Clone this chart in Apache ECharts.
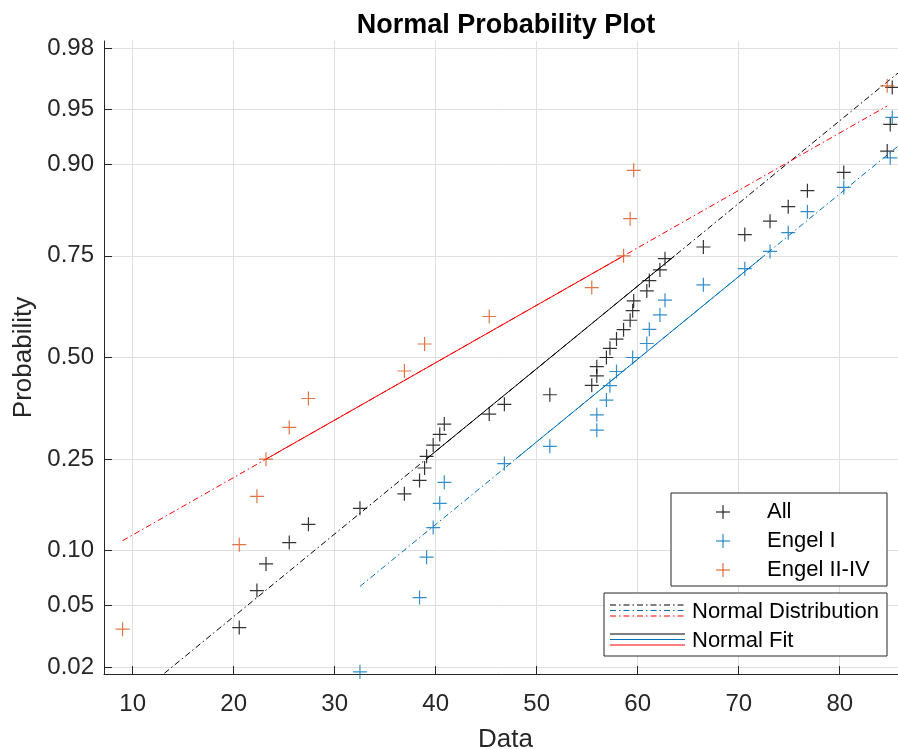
<!DOCTYPE html>
<html>
<head>
<meta charset="utf-8">
<title>Normal Probability Plot</title>
<script src="https://cdn.jsdelivr.net/npm/echarts@6/dist/echarts.min.js"></script>
<style>
  html, body { margin: 0; padding: 0; background: #fff; }
  #chart { width: 898px; height: 749px; }
</style>
</head>
<body>
<div id="chart"></div>
<script>
// values (Data axis)
const allData = [9, 20.55, 22.3, 23.2, 25.5, 27.4, 32.5, 36.9, 38.4, 38.9, 39.1, 39.75, 40.4, 40.85,
  45.3, 46.8, 51.3, 55.45, 55.95, 55.95, 56.9, 57.25, 57.9, 58.6, 59.25, 59.5, 59.6, 60.9, 61.15,
  62.2, 62.7, 66.5, 70.6, 73.1, 74.9, 76.8, 80.4, 84.7, 85.0, 85.2, 88];
const engelI = [32.5, 38.4, 39.1, 39.75, 40.4, 40.85, 46.8, 51.3, 55.95, 55.95, 56.9, 57.25, 57.9,
  59.5, 60.9, 61.15, 62.2, 62.7, 66.5, 70.6, 73.1, 74.9, 76.8, 80.4, 85.0, 85.2, 88];
const engelII = [9, 20.55, 22.3, 23.2, 25.5, 27.4, 36.9, 38.9, 45.3, 55.45, 58.6, 59.25, 59.6, 84.7];

// reference lines: [min, q1, q3, max] on the Data axis
const lineAll = [9, 39.05, 63.65, 88];
const lineI = [32.5, 47.9, 72.5, 88];
const lineII = [9, 23.2, 58.6, 84.7];

// axis ticks
const probTicks = [0.02, 0.05, 0.10, 0.25, 0.50, 0.75, 0.90, 0.95, 0.98];
const probLabels = ['0.02', '0.05', '0.10', '0.25', '0.50', '0.75', '0.90', '0.95', '0.98'];
const dataTicks = [10, 20, 30, 40, 50, 60, 70, 80];

const FONT = '"Liberation Sans", Arial, Helvetica, sans-serif';
const BLACK = '#000000';
const BLUE = '#0072BD';
const ORANGE = '#D95319';
const RED = '#FF0000';
const DASHDOT = [6, 3, 1.5, 3];

// inverse standard normal cdf (Acklam)
function norminv(p) {
  const a = [-3.969683028665376e+01, 2.209460984245205e+02, -2.759285104469687e+02, 1.383577518672690e+02, -3.066479806614716e+01, 2.506628277459239e+00];
  const b = [-5.447609879822406e+01, 1.615858368580409e+02, -1.556989798598866e+02, 6.680131188771972e+01, -1.328068155288572e+01];
  const c = [-7.784894002430293e-03, -3.223964580411365e-01, -2.400758277161838e+00, -2.549732539343734e+00, 4.374664141464968e+00, 2.938163982698783e+00];
  const d = [7.784695709041462e-03, 3.224671290700398e-01, 2.445134137142996e+00, 3.754408661907416e+00];
  const pl = 0.02425;
  let q, r;
  if (p < pl) {
    q = Math.sqrt(-2 * Math.log(p));
    return (((((c[0] * q + c[1]) * q + c[2]) * q + c[3]) * q + c[4]) * q + c[5]) / ((((d[0] * q + d[1]) * q + d[2]) * q + d[3]) * q + 1);
  }
  if (p > 1 - pl) {
    q = Math.sqrt(-2 * Math.log(1 - p));
    return -(((((c[0] * q + c[1]) * q + c[2]) * q + c[3]) * q + c[4]) * q + c[5]) / ((((d[0] * q + d[1]) * q + d[2]) * q + d[3]) * q + 1);
  }
  q = p - 0.5;
  r = q * q;
  return (((((a[0] * r + a[1]) * r + a[2]) * r + a[3]) * r + a[4]) * r + a[5]) * q / (((((b[0] * r + b[1]) * r + b[2]) * r + b[3]) * r + b[4]) * r + 1);
}

// plotting position (i-0.5)/n for sorted sample
function probPoints(arr) {
  const s = arr.slice().sort((x, y) => x - y);
  return s.map((v, i) => [v, norminv((i + 0.5) / s.length)]);
}

// line through (q1, p=.25) and (q3, p=.75)
function refLine(l) {
  const z1 = norminv(0.25), z3 = norminv(0.75);
  const k = (z3 - z1) / (l[2] - l[1]);
  const zAt = x => z1 + (x - l[1]) * k;
  return {
    dist: [[l[0], zAt(l[0])], [l[3], zAt(l[3])]],
    fit: [[l[1], z1], [l[2], z3]]
  };
}

function lineSeries(name, pts, color, dashed) {
  return {
    name: name, type: 'line', data: pts, symbol: 'none', silent: true,
    lineStyle: { color: color, width: 1, type: dashed ? DASHDOT : 'solid' },
    z: 2
  };
}

const PLUS = 'path://M7,0L7,14M0,7L14,7';
function scatterSeries(name, arr, color) {
  return {
    name: name, type: 'scatter', data: probPoints(arr),
    symbol: PLUS, symbolSize: 14,
    itemStyle: { color: 'rgba(0,0,0,0)', borderColor: color, borderWidth: 1.2 },
    z: 3
  };
}

const rAll = refLine(lineAll), rI = refLine(lineI), rII = refLine(lineII);
const yTicks = probTicks.map(norminv);

// legend boxes
function legendGraphics() {
  const g = [];
  const txt = (x, y, s) => ({ type: 'text', x: x, y: y, style: { text: s, fill: '#000', font: '22px ' + FONT, textVerticalAlign: 'middle' }, z: 101 });
  const ln = (x1, y1, x2, y2, col, dash) => ({ type: 'line', shape: { x1: x1, y1: y1, x2: x2, y2: y2 }, style: { stroke: col, lineWidth: 1, lineDash: dash ? DASHDOT : null }, z: 101 });
  const plus = (cx, cy, col) => [ln(cx - 7, cy, cx + 7, cy, col, false), ln(cx, cy - 7, cx, cy + 7, col, false)];
  g.push({ type: 'rect', shape: { x: 671, y: 493, width: 216, height: 93 }, style: { fill: '#fff', stroke: '#262626', lineWidth: 1 }, z: 100 });
  g.push(...plus(723, 512, BLACK), txt(767, 512, 'All'));
  g.push(...plus(723, 541, BLUE), txt(767, 541, 'Engel I'));
  g.push(...plus(723, 570, ORANGE), txt(767, 570, 'Engel II-IV'));
  g.push({ type: 'rect', shape: { x: 604, y: 593, width: 283, height: 63 }, style: { fill: '#fff', stroke: '#262626', lineWidth: 1 }, z: 100 });
  g.push(ln(610, 605, 685, 605, BLACK, true), ln(610, 610.5, 685, 610.5, BLUE, true), ln(610, 616, 685, 616, RED, true), txt(692, 611.5, 'Normal Distribution'));
  g.push(ln(610, 634, 685, 634, BLACK, false), ln(610, 639.5, 685, 639.5, BLUE, false), ln(610, 645, 685, 645, RED, false), txt(692, 641, 'Normal Fit'));
  return g;
}

const chart = echarts.init(document.getElementById('chart'), null, { renderer: 'canvas' });
chart.setOption({
  animation: false,
  backgroundColor: '#fff',
  title: {
    text: 'Normal Probability Plot', left: 501, top: 7, textAlign: 'center',
    textStyle: { fontFamily: FONT, fontSize: 27, fontWeight: 'bold', color: '#000' }
  },
  grid: { left: 104, top: 41, right: -9, bottom: 75, containLabel: false, outerBoundsMode: 'none' },
  xAxis: {
    type: 'value', min: 7.16, max: 86.66,
    name: 'Data', nameLocation: 'middle', nameGap: 53,
    nameTextStyle: { fontFamily: FONT, fontSize: 26, color: '#262626' },
    axisLine: { show: true, onZero: false, lineStyle: { color: '#262626', width: 1 } },
    axisTick: { show: true, inside: true, length: 8, customValues: dataTicks, lineStyle: { color: '#262626' } },
    axisLabel: { customValues: dataTicks, margin: 18, fontFamily: FONT, fontSize: 24, color: '#262626' },
    splitLine: { show: true, lineStyle: { color: '#dfdfdf', width: 1 } }
  },
  yAxis: {
    type: 'value', min: -2.1, max: 2.1,
    name: 'Probability', nameLocation: 'middle', nameGap: 64,
    nameTextStyle: { fontFamily: FONT, fontSize: 26, color: '#262626' },
    axisLine: { show: true, onZero: false, lineStyle: { color: '#262626', width: 1 } },
    axisTick: { show: true, inside: true, length: 8, customValues: yTicks, lineStyle: { color: '#262626' } },
    axisLabel: {
      customValues: yTicks, margin: 10, fontFamily: FONT, fontSize: 24, color: '#262626',
      formatter: v => {
        let best = 0;
        yTicks.forEach((t, i) => { if (Math.abs(t - v) < Math.abs(yTicks[best] - v)) best = i; });
        return probLabels[best];
      }
    },
    splitLine: { show: true, lineStyle: { color: '#dfdfdf', width: 1 } }
  },
  series: [
    lineSeries('All dist', rAll.dist, BLACK, true),
    lineSeries('All fit', rAll.fit, BLACK, false),
    lineSeries('Engel I dist', rI.dist, BLUE, true),
    lineSeries('Engel I fit', rI.fit, BLUE, false),
    lineSeries('Engel II-IV dist', rII.dist, RED, true),
    lineSeries('Engel II-IV fit', rII.fit, RED, false),
    scatterSeries('All', allData, BLACK),
    scatterSeries('Engel I', engelI, BLUE),
    scatterSeries('Engel II-IV', engelII, ORANGE)
  ],
  graphic: legendGraphics()
});
</script>
</body>
</html>
